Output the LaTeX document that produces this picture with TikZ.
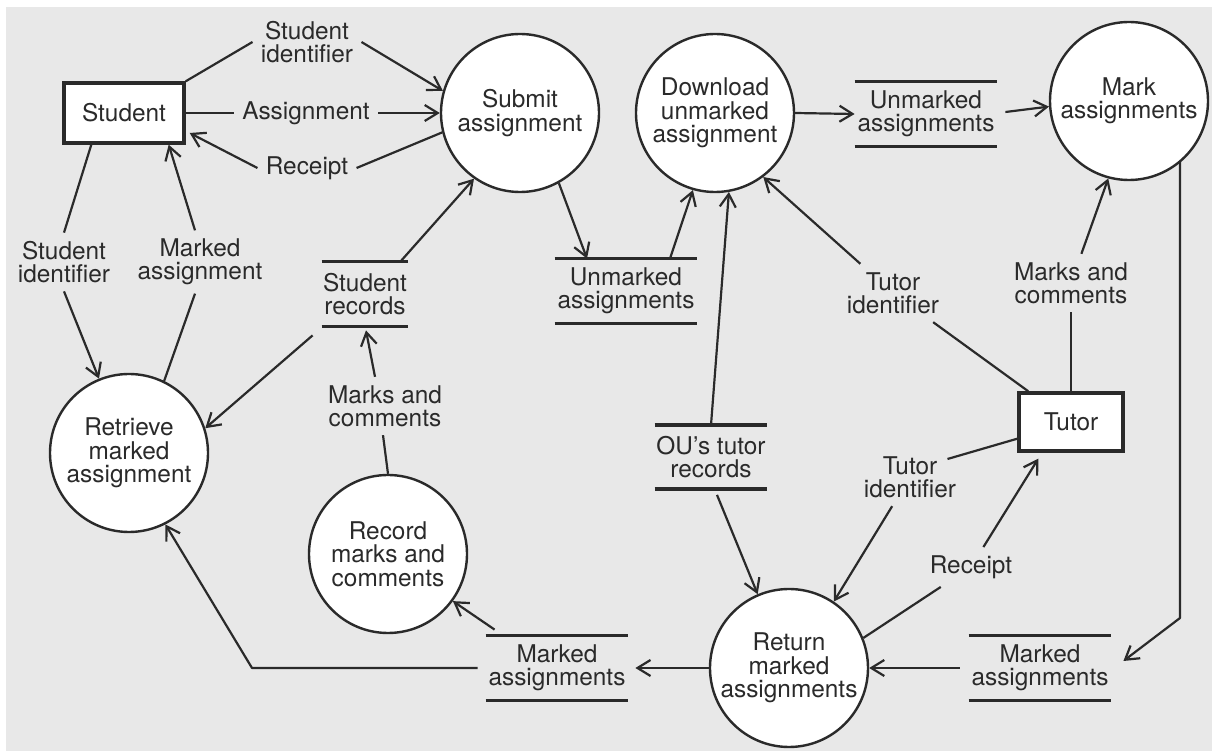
\documentclass[tikz,border=0pt]{standalone}
\usepackage{fontspec}
\setmainfont{TeX Gyre Heros}
\usetikzlibrary{arrows.meta,calc}
\definecolor{bg}{HTML}{E8E8E8}
\definecolor{ink}{HTML}{2A2A2A}
\begin{document}
\begin{tikzpicture}[x=0.5pt,y=-0.5pt,
  every node/.style={font=\fontsize{12.2}{11.7}\selectfont, text=ink, align=center},
  proc/.style={circle, draw=ink, line width=1.2pt, fill=white, minimum size=79pt, inner sep=0pt},
  ext/.style={rectangle, draw=ink, line width=1.7pt, fill=white, inner sep=0pt},
  storeline/.style={draw=ink, line width=1.8pt, -},
  store/.style={inner sep=0pt, minimum height=32pt,
    append after command={(\tikzlastnode.north west) edge[storeline] (\tikzlastnode.north east)
                          (\tikzlastnode.south west) edge[storeline] (\tikzlastnode.south east)}},
  lab/.style={inner sep=4pt},
  flow/.style={draw=ink, line width=1.1pt, line join=round},
  arr/.style={flow, -{Straight Barb[length=6.5pt,width=8pt,line width=1.1pt]}},
]
\fill[white] (0,0) rectangle (1212,753);
\fill[bg] (6,7) rectangle (1212,751);
\useasboundingbox (0,0) rectangle (1212,753);

% external entities
\node[ext, minimum width=60pt, minimum height=30pt] (student) at (124,113) {Student};
\node[ext, minimum width=52pt, minimum height=29pt] (tutor) at (1071,422) {Tutor};

% processes
\node[proc] (submit) at (520,113) {Submit\\assignment};
\node[proc] (download) at (715,113) {Download\\unmarked\\assignment};
\node[proc] (mark) at (1129,101) {Mark\\assignments};
\node[proc] (retrieve) at (129,453) {Retrieve\\marked\\assignment};
\node[proc] (record) at (388,554) {Record\\marks and\\comments};
\node[proc] (return) at (789,668) {Return\\marked\\assignments};

% data stores
\node[store, minimum width=71pt] (uatop) at (926,114) {Unmarked\\assignments};
\node[store, minimum width=71pt] (uamid) at (626,291) {Unmarked\\assignments};
\node[store, minimum width=43pt] (srec) at (365,294) {Student\\records};
\node[store, minimum width=56pt, minimum height=31.5pt] (ou) at (711,457) {OU’s tutor\\records};
\node[store, minimum width=71pt] (maleft) at (557,668) {Marked\\assignments};
\node[store, minimum width=71pt] (maright) at (1040,668) {Marked\\assignments};

% flow labels
\node[lab] (l1) at (307,42) {Student\\identifier};
\node[lab] (l2) at (306,113) {Assignment};
\node[lab] (l3) at (307,168) {Receipt};
\node[lab] (l4) at (64,262) {Student\\identifier};
\node[lab] (l5) at (200,262) {Marked\\assignment};
\node[lab] (l6) at (385,406) {Marks and\\comments};
\node[lab] (l7) at (893,293) {Tutor\\identifier};
\node[lab] (l8) at (1071,283) {Marks and\\comments};
\node[lab] (l9) at (910,477) {Tutor\\identifier};
\node[lab] (l10) at (971,567) {Receipt};

\coordinate (c1) at (252,668);
\coordinate (c2) at (1180,618);

% flows
\draw[flow] (student.north east) -- (l1.west);
\draw[arr] (l1.east) -- (submit.164);
\draw[flow] (student.east) -- (l2.west);
\draw[arr] (l2.east) -- (submit.west);
\draw[flow] (submit.194) -- (l3.east);
\draw[arr] (l3.west) -- ($(student.east)+(4,20)$);
\draw[flow] ($(student.south west)+(29,0)$) -- (l4.north);
\draw[arr] (l4.south) -- (retrieve.112);
\draw[flow] (retrieve.64) -- ($(l5.south)+(-5,0)$);
\draw[arr] ($(l5.north)+(-5,0)$) -- ($(student.south east)+(-17,0)$);
\draw[arr] ($(srec.north east)+(-8,0)$) -- (submit.235);
\draw[arr] ($(srec.south west)+(-9,9)$) -- (retrieve.18);
\draw[flow] (record.90) -- ($(l6.south)+(-2,0)$);
\draw[arr] ($(l6.north)+(-10,0)$) -- ($(srec.south)+(1,4)$);
\draw[arr] (submit.299) -- ($(uamid.north)+(-39,0)$);
\draw[arr] ($(uamid.north)+(44,0)$) -- (download.254);
\draw[arr] (ou.north) -- (download.280);
\draw[arr] ($(ou.south)+(6,6)$) -- (return.113);
\draw[arr] (download.east) -- (uatop.west);
\draw[arr] ($(uatop.east)+(8,-2)$) -- (mark.184);
\draw[flow] ($(tutor.north west)+(11,0)$) -- (l7);
\draw[arr] (l7) -- (download.307);
\draw[flow] (tutor.north) -- (l8.south);
\draw[arr] (l8) -- (mark.255);
\draw[arr] ($(c2 |- mark.308)+(0,-2)$) -- (c2) -- ($(maright.east)+(12,-7)$);
\draw[arr] ($(maright.west)+(-9,0)$) -- (return.east);
\draw[flow] ($(tutor.south west)+(0,-14)$) -- ($(l9.east)+(-17,-18)$);
\draw[arr] (l9) -- (return.56);
\draw[flow] (return.22) -- (l10);
\draw[arr] (l10) -- ($(tutor.south west)+(21,6)$);
\draw[arr] (return.west) -- ($(maleft.east)+(7,0)$);
\draw[arr] ($(maleft.north west)+(9,-6)$) -- (record.324);
\draw[arr] ($(maleft.west)+(-8,0)$) -- (c1) -- (retrieve.297);
\end{tikzpicture}
\end{document}
